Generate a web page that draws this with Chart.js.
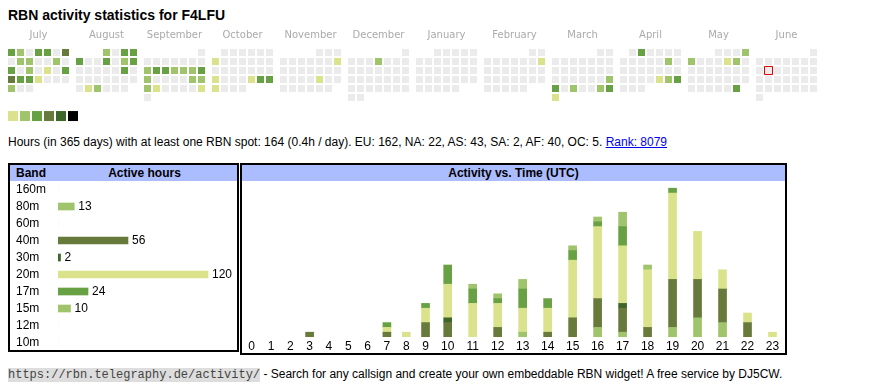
<!DOCTYPE html>
<html>
<head>
<meta charset="utf-8">
<script src="https://cdn.jsdelivr.net/npm/chart.js@4.4.1/dist/chart.umd.min.js"></script>
<style>
  body { margin: 0; width: 870px; height: 390px; background: #fff; position: relative; overflow: hidden;
         font-family: 'Liberation Sans', Arial, sans-serif; color: #000; }
  .abs { position: absolute; white-space: nowrap; }
  #title { left: 8px; top: 7px; font-size: 14px; font-weight: bold; line-height: 16px; }
  #info { left: 8px; top: 135px; font-size: 12px; line-height: 14px; }
  #info a { color: #00e; }
  .box { position: absolute; border: 2px solid #000; box-sizing: border-box; }
  #bandBox { left: 8px; top: 163px; width: 231px; height: 189px; }
  #timeBox { left: 240px; top: 163px; width: 547px; height: 192px; }
  .head { position: absolute; left: 0; right: 0; top: 0; height: 16px; background: #abbcff;
          font-weight: bold; font-size: 12px; line-height: 16px; }
  .head span { position: absolute; top: 0; }
  #footer { left: 8px; top: 367px; font-size: 12px; line-height: 15px; }
  #footer code { font-family: 'Liberation Mono', monospace; font-size: 12px; background: #ddd; color: #444; }
  canvas { position: absolute; }
</style>
</head>
<body>
<div id="title" class="abs">RBN activity statistics for F4LFU</div>
<div id="info" class="abs">Hours (in 365 days) with at least one RBN spot: 164 (0.4h / day). EU: 162, NA: 22, AS: 43, SA: 2, AF: 40, OC: 5. <a href="#">Rank: 8079</a></div>

<div id="bandBox" class="box"><div class="head"><span style="left:6px">Band</span><span style="left:48px;width:173px;text-align:center">Active hours</span></div></div>
<div id="timeBox" class="box"><div class="head" style="text-align:center">Activity vs. Time (UTC)</div></div>

<canvas id="calendar" width="870" height="105" style="left:0;top:20px"></canvas>
<canvas id="bands" width="220" height="170" style="left:16px;top:181px"></canvas>
<canvas id="hours" width="543" height="172" style="left:242px;top:181px"></canvas>

<div id="footer" class="abs"><code>https://rbn.telegraphy.de/activity/</code> - Search for any callsign and create your own embeddable RBN widget! A free service by DJ5CW.</div>

<script>
// ---- calendar (activity level per day, 0 = no spot) ----
const startYear = 2024, startMonth = 6; // July 2024
const monthNames = ['July', 'August', 'September', 'October', 'November', 'December',
    'January', 'February', 'March', 'April', 'May', 'June'];
const levelsJul = [3,2,0,3,3,0,4, 0,2,2,0,0,2,0, 3,0,2,0,1,0,3, 4,3,3,1,0,0,0, 2,0,0];
const levelsAug = [2,0,3,3, 3,0,0,3,0,2,3, 0,0,0,0,0,3,0, 0,0,0,0,0,0,0, 0,1,2,0,0,0];
const levelsSep = [0, 0,0,0,0,0,0,0, 2,3,3,2,2,2,3, 2,0,0,0,0,2,2, 2,1,0,0,0,0,1, 0];
const levelsOct = [0,0,0,0,0,0, 1,0,0,0,0,0,0, 0,0,0,0,0,0,0, 1,0,0,0,1,3,3, 1,0,0,0];
const levelsNov = [0,0,0, 0,0,0,0,0,0,1, 0,0,0,0,0,0,0, 0,0,0,0,1,0,0, 0,0,0,0,0,0];
const levelsDec = [0, 0,0,0,2,0,0,0, 0,0,0,0,0,0,0, 0,0,0,0,0,0,0, 0,0,0,0,0,0,0, 0,0];
const levelsJan = [0,0,0,0,0, 0,0,0,0,0,0,0, 0,0,0,0,0,0,0, 0,0,0,0,0,0,0, 0,0,0,0,0];
const levelsFeb = [0,0, 0,0,0,0,0,0,1, 0,0,0,0,0,0,0, 0,0,0,0,0,0,0, 0,0,0,0,0];
const levelsMar = [0,0, 0,0,0,0,0,0,0, 0,0,0,0,0,0,0, 0,0,0,0,0,0,2, 3,0,2,0,0,2,3, 1];
const levelsApr = [0,3,0,0,0,0, 0,0,0,0,0,2,0, 0,0,0,0,0,0,0, 0,0,0,0,1,2,3, 0,0,0];
const levelsMay = [0,0,0,2, 2,0,0,0,1,2,0, 0,0,0,0,0,0,0, 0,0,0,0,0,0,0, 0,0,0,0,0,3];
const levelsJun = [0, 0,0,0,0,0,0,0, 0,0,0,0,0,0,0, 0,0,0,0,0,0,0, 0,0,0,0,0,0,0, 0];
const monthLevels = [levelsJul, levelsAug, levelsSep, levelsOct, levelsNov, levelsDec,
    levelsJan, levelsFeb, levelsMar, levelsApr, levelsMay, levelsJun];
const legendLevels = [1, 2, 3, 4, 5, 6];
const today = { month: 11, day: 10 };

const levelColors = ['#ebebeb', '#dae38b', '#9fc46b', '#68a044', '#677a3b', '#3e6629', '#000000'];

// ---- bands ----
const bands = ['160m', '80m', '60m', '40m', '30m', '20m', '17m', '15m', '12m', '10m'];
const bandHours = [0, 13, 0, 56, 2, 120, 24, 10, 0, 0];
const bandColors = ['#ebebeb', '#9fc46b', '#ebebeb', '#677a3b', '#3e6629', '#dae38b', '#68a044', '#9fc46b', '#ebebeb', '#ebebeb'];

// ---- activity per hour (UTC), stacked by band ----
const hourLabels = ['0','1','2','3','4','5','6','7','8','9','10','11',
    '12','13','14','15','16','17','18','19','20','21','22','23'];
const hours80m = [0,0,0,0,0,0,0,0,0,0,0,0,0,1,0,0,2,1,0,2,4,3,0,0];
const hours40m = [0,0,0,1,0,0,0,1,0,3,3,0,2,0,1,4,6,5,2,10,8,7,3,0];
const hours30m = [0,0,0,0,0,0,0,0,0,0,1,0,0,0,0,0,0,1,0,0,0,0,0,0];
const hours20m = [0,0,0,0,0,0,0,1,1,3,7,7,5,5,5,12,15,12,12,18,10,4,2,1];
const hours17m = [0,0,0,0,0,0,0,1,0,1,4,3,1,4,2,2,1,4,0,1,0,0,0,0];
const hours15m = [0,0,0,0,0,0,0,0,0,0,0,1,1,2,0,1,1,3,1,0,0,0,0,0];

const FONT = "'Liberation Sans', Arial, sans-serif";
const noLegend = { legend: { display: false }, tooltip: { enabled: false } };

// calendar grid: 7 weekday columns per month, one row per week
const MONTH_STEP = 68 / 9;
const cells = [], cellColors = [];
monthLevels.forEach((levels, m) => {
    const first = new Date(Date.UTC(startYear, startMonth + m, 1));
    const offset = (first.getUTCDay() + 6) % 7;
    levels.forEach((lv, i) => {
        const k = offset + i;
        cells.push({ x: m * MONTH_STEP + k % 7, y: Math.floor(k / 7) });
        cellColors.push(levelColors[lv]);
    });
});
const todayFirst = new Date(Date.UTC(startYear, startMonth + today.month, 1));
const todayK = (todayFirst.getUTCDay() + 6) % 7 + today.day - 1;
const todayCell = [{ x: today.month * MONTH_STEP + todayK % 7, y: Math.floor(todayK / 7) }];
const legendCells = legendLevels.map((lv, i) => ({ x: 1 / 6 + i * 12 / 9, y: 7.06 }));

new Chart(document.getElementById('calendar'), {
    type: 'scatter',
    data: {
        datasets: [
            { data: cells, pointStyle: 'rect', pointRadius: 7 / Math.SQRT2, pointBorderWidth: 0,
              pointBackgroundColor: cellColors },
            { data: todayCell, pointStyle: 'rect', pointRadius: 8 / Math.SQRT2, pointBorderWidth: 1,
              pointBackgroundColor: '#fff', pointBorderColor: '#e00000' },
            { data: legendCells, pointStyle: 'rect', pointRadius: 10 / Math.SQRT2, pointBorderWidth: 0,
              pointBackgroundColor: legendLevels.map(lv => levelColors[lv]) }
        ]
    },
    options: {
        responsive: false, animation: false, events: [],
        layout: { padding: 0, autoPadding: false },
        plugins: noLegend,
        scales: {
            x: {
                position: 'top', min: -11.5 / 9, max: -11.5 / 9 + 870 / 9,
                grid: { display: false, drawTicks: false }, border: { display: false },
                afterBuildTicks: s => { s.ticks = monthNames.map((n, m) => ({ value: m * MONTH_STEP + 3 })); },
                afterFit: s => { s.height = 22; },
                ticks: { autoSkip: false, maxRotation: 0, padding: 1, color: '#aaa',
                         font: { family: "'DejaVu Sans', sans-serif", size: 10 },
                         callback: (v, i) => monthNames[i] }
            },
            y: { display: false, reverse: true, min: -10.5 / 9, max: -10.5 / 9 + 83 / 9 }
        }
    }
});

// band table bars
const valueLabels = {
    id: 'valueLabels',
    afterDatasetsDraw(chart) {
        const ctx = chart.ctx;
        ctx.save();
        ctx.font = '12px ' + FONT;
        ctx.fillStyle = '#000';
        ctx.textBaseline = 'middle';
        chart.getDatasetMeta(0).data.forEach((bar, i) => {
            if (bandHours[i] > 0) ctx.fillText(bandHours[i], bar.x + 4, bar.y);
        });
        ctx.restore();
    }
};

new Chart(document.getElementById('bands'), {
    type: 'bar',
    data: {
        labels: bands,
        datasets: [{ data: bandHours, backgroundColor: bandColors, borderWidth: 0, barThickness: 7 }]
    },
    options: {
        indexAxis: 'y', responsive: false, animation: false, events: [],
        layout: { padding: 0, autoPadding: false },
        plugins: noLegend,
        scales: {
            x: { display: false, min: 0, max: 142.4 },
            y: {
                grid: { display: false, drawTicks: false }, border: { display: false },
                afterFit: s => { s.width = 42; s.paddingTop = 0; s.paddingBottom = 0; },
                ticks: { autoSkip: false, crossAlign: 'far', padding: 0, color: '#000',
                         font: { family: FONT, size: 12 } }
            }
        }
    },
    plugins: [valueLabels]
});

// hour columns are sized by their label, like the table they come from
const DIGIT_W = 5.67, COL_PAD = 13.67;
const colWidths = hourLabels.map(l => COL_PAD + DIGIT_W * l.length);
const colCenters = [];
colWidths.reduce((acc, w) => { colCenters.push(acc + w / 2); return acc + w; }, 0);
const totalWidth = colWidths.reduce((a, b) => a + b, 0);
// empty hours draw no bar at all
const pts = arr => arr.map((v, i) => ({ x: colCenters[i], y: v > 0 ? v : null }));

const hourSeries = [
    { label: '80m', data: hours80m, color: '#9fc46b' },
    { label: '40m', data: hours40m, color: '#677a3b' },
    { label: '30m', data: hours30m, color: '#3e6629' },
    { label: '20m', data: hours20m, color: '#dae38b' },
    { label: '17m', data: hours17m, color: '#68a044' },
    { label: '15m', data: hours15m, color: '#9fc46b' }
];

new Chart(document.getElementById('hours'), {
    type: 'bar',
    data: {
        datasets: hourSeries.map(s => ({
            label: s.label, data: pts(s.data), backgroundColor: s.color, borderWidth: 0, barThickness: 8
        }))
    },
    options: {
        responsive: false, animation: false, events: [],
        layout: { padding: 0, autoPadding: false },
        plugins: noLegend,
        scales: {
            x: {
                type: 'linear', stacked: true, offset: false, min: 0, max: totalWidth,
                grid: { display: false, drawTicks: false }, border: { display: false },
                afterBuildTicks: s => { s.ticks = colCenters.map(c => ({ value: c })); },
                afterFit: s => { s.height = 16; s.paddingLeft = 0; s.paddingRight = 0; },
                ticks: { autoSkip: false, maxRotation: 0, padding: 2, color: '#000',
                         font: { family: FONT, size: 12 }, callback: (v, i) => hourLabels[i] }
            },
            y: { display: false, stacked: true, min: 0, max: 32.5 }
        }
    }
});
</script>
</body>
</html>
